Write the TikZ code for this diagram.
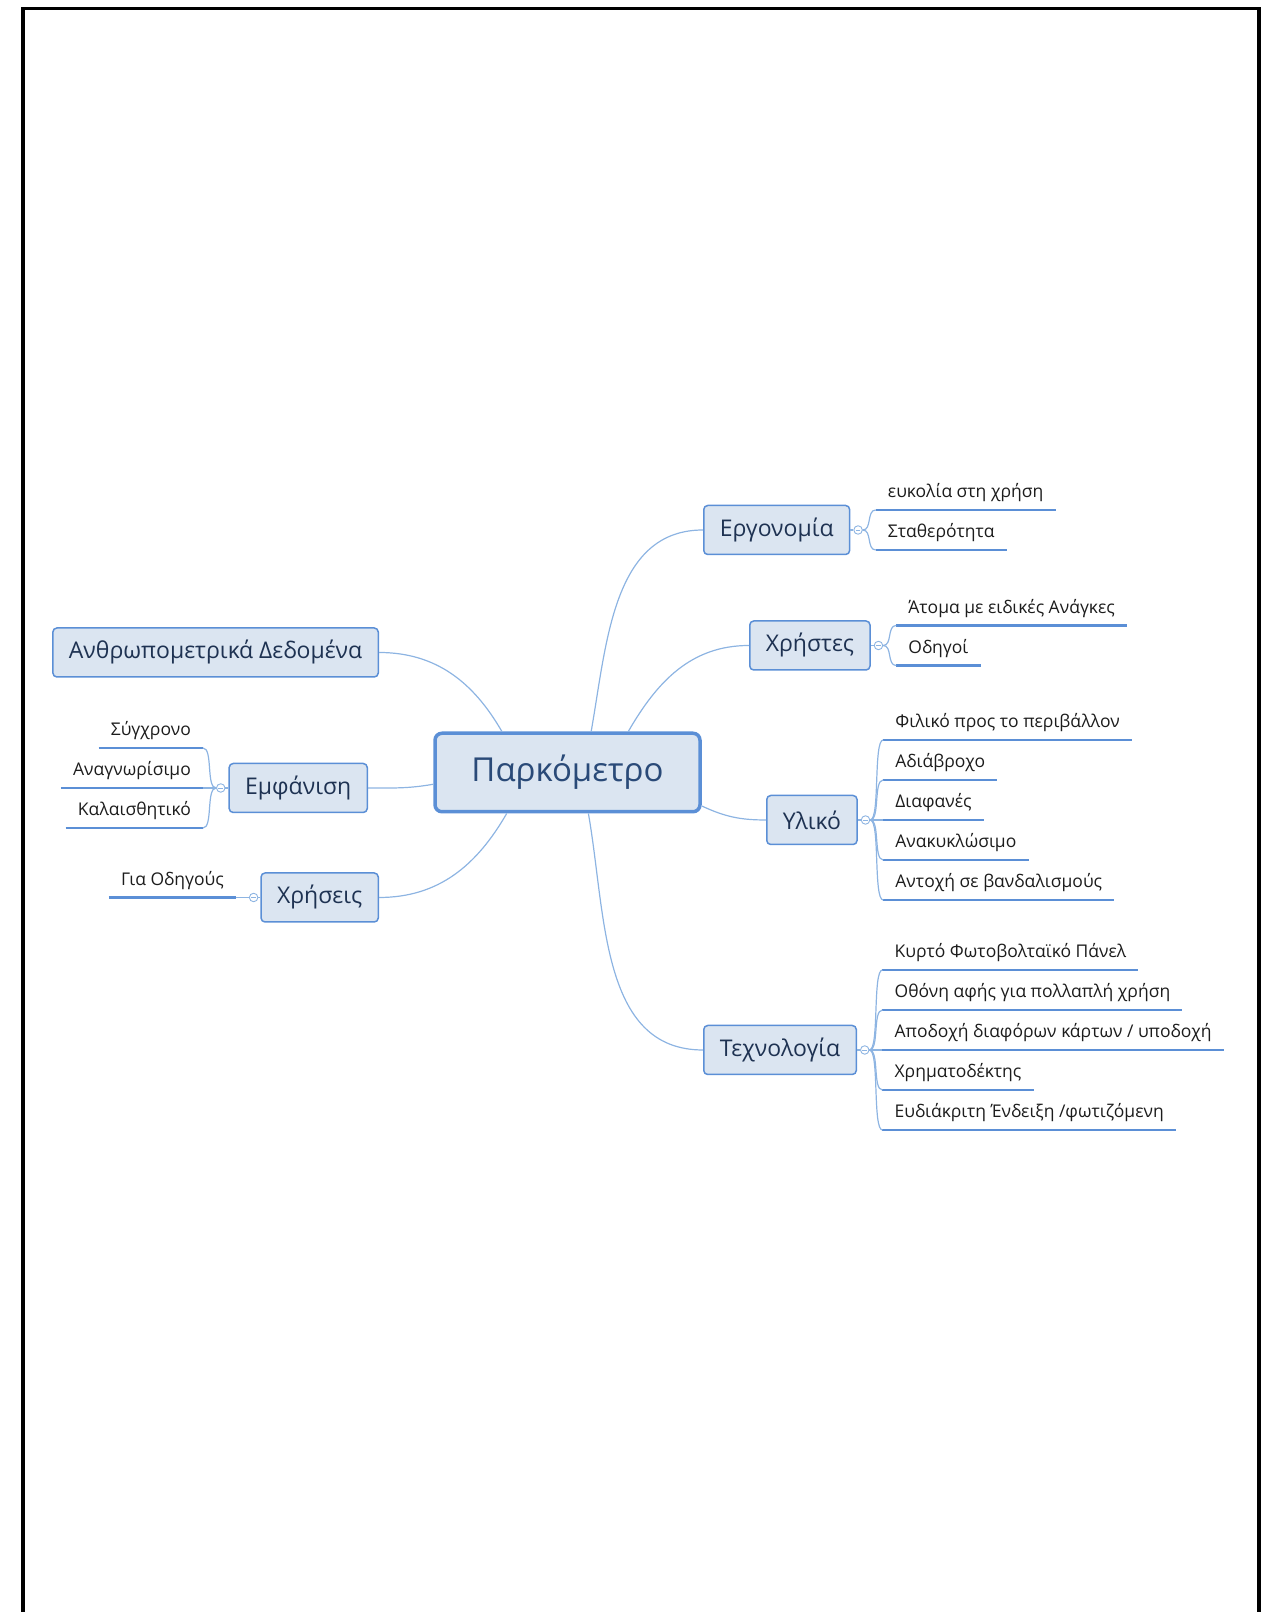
\documentclass[tikz,border=0pt]{standalone}
\usepackage{fontspec}
\setmainfont{Open Sans}
\usetikzlibrary{positioning}
\definecolor{boxfill}{HTML}{DBE5F1}
\definecolor{boxline}{HTML}{5B8FD6}
\definecolor{linkblue}{HTML}{8DB4E2}
\definecolor{lineblue}{HTML}{5B8FD6}
\definecolor{headtext}{HTML}{2A4A78}
\definecolor{topictext}{HTML}{1E3252}
\definecolor{leaftext}{HTML}{1C1C1C}
\tikzset{central/.style={draw=boxline, fill=boxfill, line width=3.5pt, rounded corners=7pt,
    minimum width=265pt, minimum height=78.5pt, text=headtext, font=\fontsize{33}{38}\selectfont}}
\tikzset{topic/.style={draw=boxline, fill=boxfill, line width=1.5pt, rounded corners=4pt,
    minimum height=49pt, inner xsep=16pt, text=topictext, font=\fontsize{23}{28}\selectfont}}
\tikzset{leaf/.style={inner xsep=12pt, inner ysep=8pt, text height=13pt, text depth=4pt,
    text=leaftext, font=\fontsize{17.5}{21}\selectfont}}
\tikzset{link/.style={draw=linkblue, line width=1.2pt}}
\tikzset{underline/.style={draw=lineblue, line width=2.6pt}}
\tikzset{branch/.style={link, out=0, in=180, max distance=10pt}}
\tikzset{lbranch/.style={link, out=180, in=0, max distance=10pt}}
\tikzset{toggle/.style={circle, draw=linkblue, fill=white, line width=0.9pt, inner sep=0pt,
    minimum size=8.5pt, path picture={\draw[linkblue, line width=0.8pt]
    ([xshift=-2.3pt]path picture bounding box.center) -- ([xshift=2.3pt]path picture bounding box.center);}}}

\begin{document}
\begin{tikzpicture}[x=1pt, y=1pt]
\useasboundingbox (0,0) rectangle (1271,1612);
\draw[line width=3.5pt] (23,0) -- (23,1603.5) -- (1259,1603.5) -- (1259,0);

\node[central] (park) at (567.5,839.5) {Παρκόμετρο};
\node[topic, anchor=west] (ergo) at (703,1082) {Εργονομία};
\node[topic, anchor=west] (users) at (749,966.5) {Χρήστες};
\node[topic, anchor=west] (material) at (766,792) {Υλικό};
\node[topic, anchor=west] (tech) at (703,562) {Τεχνολογία};
\node[topic, anchor=east] (anthro) at (379,959.5) {Ανθρωπομετρικά Δεδομένα};
\node[topic, anchor=east] (looks) at (368,824) {Εμφάνιση};
\node[topic, anchor=east] (uses) at (379,714.5) {Χρήσεις};

\draw[link] (park.60) to[out=80, in=180] (ergo.west);
\draw[link] (park.34) to[out=60, in=180] (users.west);
\draw[link] (park.-14) to[out=-25, in=180] (material.west);
\draw[link] (park.-63) to[out=-80, in=180] (tech.west);
\draw[link] (anthro.east) to[out=0, in=120] (park.148);
\draw[link] (looks.east) to[out=0, in=190] (park.185);
\draw[link] (uses.east) to[out=0, in=240] (park.214);

\node[toggle, right=3pt of ergo] (ergotog) {};
\node[toggle, right=3pt of users] (userstog) {};
\node[toggle, right=3pt of material] (materialtog) {};
\node[toggle, right=3pt of tech] (techtog) {};
\node[toggle, left=3pt of looks] (lookstog) {};
\node[toggle, left=2pt of uses] (usestog) {};
\foreach \n in {ergo, users, material, tech, looks, uses}
\draw[link] (\n) -- (\n tog);

% right side
\foreach \txt [count=\i] in {ευκολία στη χρήση, Σταθερότητα} {
\node[leaf, anchor=south west] (ergo\i) at ([xshift=13pt, yshift={60-40*\i}]ergotog.east) {\txt};
\draw[underline] (ergo\i.south west) -- (ergo\i.south east);
\draw[branch] (ergotog.east) to (ergo\i.south west);
}
\foreach \txt [count=\i] in {Άτομα με ειδικές Ανάγκες, Οδηγοί} {
\node[leaf, anchor=south west] (users\i) at ([xshift=13pt, yshift={60-40*\i}]userstog.east) {\txt};
\draw[underline] (users\i.south west) -- (users\i.south east);
\draw[branch] (userstog.east) to (users\i.south west);
}
\foreach \txt [count=\i] in {Φιλικό προς το περιβάλλον, Αδιάβροχο, Διαφανές, Ανακυκλώσιμο, Αντοχή σε βανδαλισμούς} {
\node[leaf, anchor=south west] (material\i) at ([xshift=13pt, yshift={120-40*\i}]materialtog.east) {\txt};
\draw[underline] (material\i.south west) -- (material\i.south east);
\draw[branch] (materialtog.east) to (material\i.south west);
}
\foreach \txt [count=\i] in {Κυρτό Φωτοβολταϊκό Πάνελ, Οθόνη αφής για πολλαπλή χρήση, Αποδοχή διαφόρων κάρτων / υποδοχή, Χρηματοδέκτης, Ευδιάκριτη Ένδειξη /φωτιζόμενη} {
\node[leaf, anchor=south west] (tech\i) at ([xshift=13pt, yshift={120-40*\i}]techtog.east) {\txt};
\draw[underline] (tech\i.south west) -- (tech\i.south east);
\draw[branch] (techtog.east) to (tech\i.south west);
}

% left side
\foreach \txt [count=\i] in {Σύγχρονο, Αναγνωρίσιμο, Καλαισθητικό} {
\node[leaf, anchor=south east] (looks\i) at ([xshift=-13pt, yshift={80-40*\i}]lookstog.west) {\txt};
\draw[underline] (looks\i.south west) -- (looks\i.south east);
\draw[lbranch] (lookstog.west) to (looks\i.south east);
}
\node[leaf, anchor=south east] (uses1) at ([xshift=-13pt]usestog.west) {Για Οδηγούς};
\draw[underline] (uses1.south west) -- (uses1.south east);
\draw[link] (usestog) -- (uses1.south east);
\end{tikzpicture}
\end{document}
